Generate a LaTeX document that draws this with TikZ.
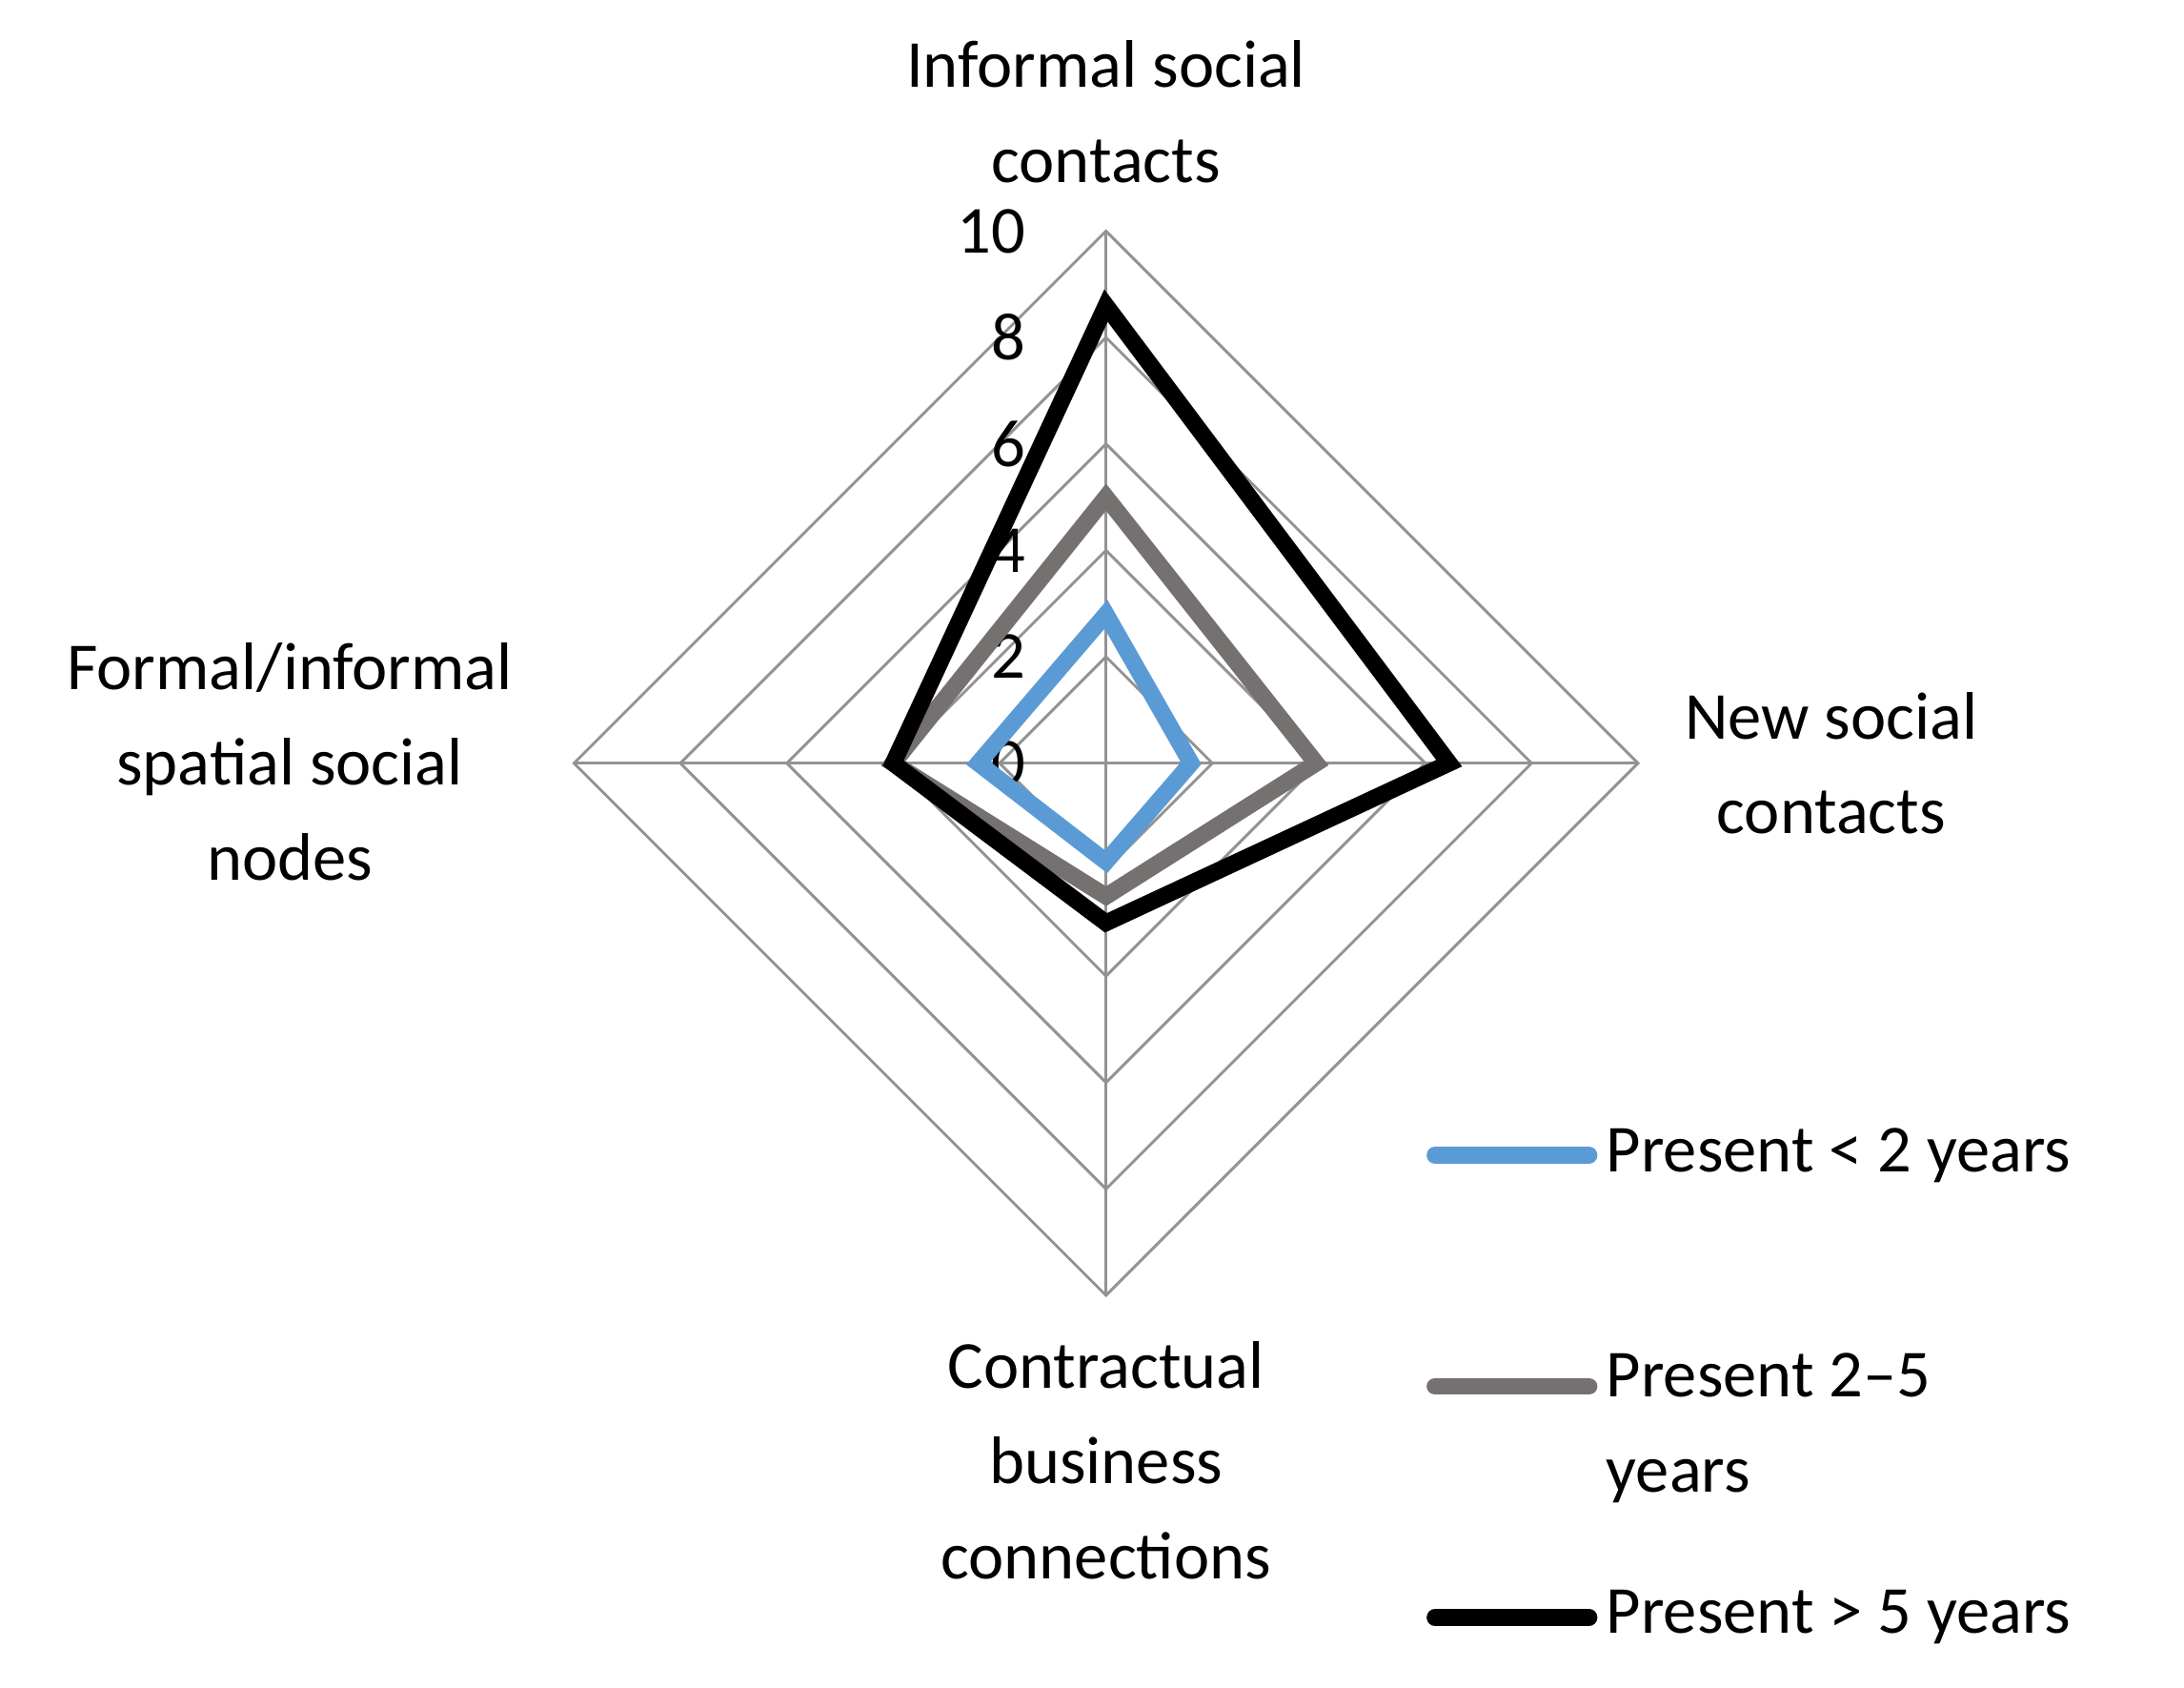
\documentclass[tikz,border=0pt]{standalone}
\usepackage{fontspec}
\setmainfont{Carlito}
\usetikzlibrary{calc}
\begin{document}
\begin{tikzpicture}[x=0.5pt,y=-0.5pt,
  grid/.style={draw=gray!85,line width=1pt},
  ser/.style={line width=6pt,line join=miter},
  lab/.style={font=\fontsize{24}{34}\selectfont,align=center,inner sep=0pt},
  tick/.style={font=\fontsize{24}{28}\selectfont,anchor=east,inner sep=0pt},
  leg/.style={font=\fontsize{24}{34}\selectfont,anchor=west,align=left,inner sep=0pt}]
\useasboundingbox (0,0) rectangle (1560,1205);
\coordinate (c) at (790,545);
\foreach \r in {2,4,6,8,10}{
  \draw[grid] ($(c)+(0,-38*\r)$) -- ($(c)+(38*\r,0)$) -- ($(c)+(0,38*\r)$) -- ($(c)+(-38*\r,0)$) -- cycle;}
\draw[grid] (c) -- ++(0,-380); \draw[grid] (c) -- ++(380,0);
\draw[grid] (c) -- ++(0,380); \draw[grid] (c) -- ++(-380,0);
\foreach \v in {0,2,...,10}{\node[tick] (t\v) at (733,545-38*\v) {\v};}
\newcommand{\serpoly}[5]{\draw[#1] ($(c)+(0,-38*#2)$) -- ($(c)+(38*#3,0)$) -- ($(c)+(0,38*#4)$) -- ($(c)+(-38*#5,0)$) -- cycle;}
\definecolor{sblue}{HTML}{5B9BD5}
\definecolor{sgray}{HTML}{767171}
\serpoly{ser,sblue}{2.8}{1.6}{1.85}{2.4}
\serpoly{ser,sgray}{5}{3.95}{2.5}{4}
\serpoly{ser,black}{8.6}{6.45}{3}{4}
\node[lab] (a1) at (790,80) {Informal social\\contacts};
\node[lab] (a2) at (1308,545) {New social\\contacts};
\node[lab] (a3) at (790,1043) {Contractual\\business\\connections};
\node[lab] (a4) at (207,544) {Formal/informal\\spatial social\\nodes};
\coordinate (l1a) at (1025,825); \coordinate (l1b) at (1135,825);
\coordinate (l2a) at (1025,990); \coordinate (l2b) at (1135,990);
\coordinate (l3a) at (1025,1155); \coordinate (l3b) at (1135,1155);
\draw[ser,sblue,line cap=round] (l1a) -- (l1b);
\draw[ser,sgray,line cap=round] (l2a) -- (l2b);
\draw[ser,black,line cap=round] (l3a) -- (l3b);
\node[leg] (g1) at (1147,825) {Present < 2 years};
\node[leg,anchor=north west] (g2) at (1147,966) {Present 2–5\\years};
\node[leg] (g3) at (1147,1155) {Present > 5 years};
\end{tikzpicture}
\end{document}
